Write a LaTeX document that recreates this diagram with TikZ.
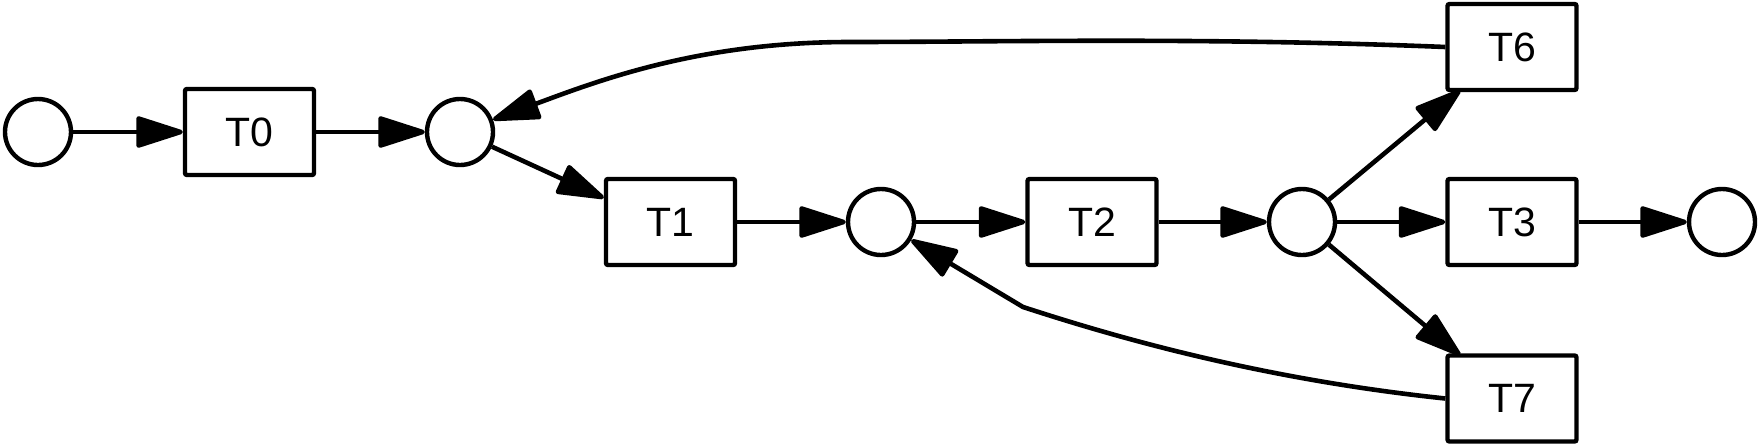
\documentclass[tikz,border=0pt]{standalone}
\usepackage{fontspec}
\setmainfont{Liberation Sans}
\usetikzlibrary{arrows.meta}
\begin{document}
\begin{tikzpicture}[x=0.5pt,y=-0.5pt,
  place/.style={circle,draw,line width=2.2pt,minimum size=33pt,inner sep=0pt},
  trans/.style={rectangle,draw,line width=2.2pt,minimum width=64.5pt,minimum height=43pt,inner sep=0pt,rounded corners=1pt,font=\fontsize{20.5}{24}\selectfont},
  arc/.style={line width=2.3pt,-{Triangle[length=26pt,width=16pt,round]}}]
\useasboundingbox (0,0) rectangle (1760,445);
% places
\node[place] (p0) at (38,132) {};
\node[place] (p1) at (460,132) {};
\node[place] (p2) at (881,222) {};
\node[place] (p3) at (1302,222) {};
\node[place] (p4) at (1722,222) {};
% transitions
\node[trans] (T0) at (249.5,132) {T0};
\node[trans] (T1) at (670.5,222) {T1};
\node[trans] (T2) at (1092,222) {T2};
\node[trans] (T6) at (1512,47) {T6};
\node[trans] (T3) at (1512,222) {T3};
\node[trans] (T7) at (1512,398.5) {T7};
% arc end points on transitions
\coordinate (t1in) at ([yshift=12pt]T1.west);
\coordinate (t6in) at ([xshift=7.5pt,yshift=1pt]T6.south west);
\coordinate (t7in) at ([xshift=7.5pt,yshift=-1pt]T7.north west);
% arcs
\draw[arc] (p0) -- (T0);
\draw[arc] (T0) -- (p1);
\draw[arc] (p1) -- (t1in);
\draw[arc] (T1) -- (p2);
\draw[arc] (p2) -- (T2);
\draw[arc] (T2) -- (p3);
\draw[arc] (p3) -- (t6in);
\draw[arc] (p3) -- (T3);
\draw[arc] (p3) -- (t7in);
\draw[arc] (T3) -- (p4);
\draw[arc] (T6.west) .. controls (1200,37) and (1000,42) .. (850,42)
  .. controls (700,42) and (600,80) .. (p1);
\draw[arc] (T7.west) .. controls (1250,378) and (1100,332) .. (1023,307) -- (p2);
\end{tikzpicture}
\end{document}
